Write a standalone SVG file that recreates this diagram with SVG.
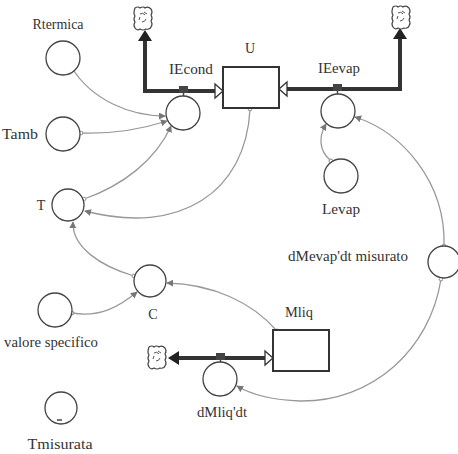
<svg xmlns="http://www.w3.org/2000/svg" width="458" height="454" viewBox="0 0 458 454">
<style>
text{font-family:"Liberation Serif","Times New Roman",serif;font-size:14px;fill:#333;text-anchor:middle}
.aux{fill:#fff;stroke:#444;stroke-width:1.3}
.stock{fill:#fff;stroke:#333;stroke-width:2}
.pipe{fill:none;stroke:#333;stroke-width:4}
.conn{fill:none;stroke:#999;stroke-width:1.3}
.cloud{fill:#fff;stroke:#444;stroke-width:1.2}
.valve{fill:#444}
.hollow{fill:#fff;stroke:#333;stroke-width:1.3}
</style>
<defs>
<marker id="ah" viewBox="0 0 8 8" refX="7" refY="4" markerWidth="7" markerHeight="7" markerUnits="userSpaceOnUse" orient="auto">
<path d="M0,0 L8,4 L0,8 z" fill="#777"/>
</marker>
<marker id="dot" viewBox="0 0 6 6" refX="3" refY="3" markerWidth="5" markerHeight="5" markerUnits="userSpaceOnUse" orient="auto">
<circle cx="3" cy="3" r="2.3" fill="#fff" stroke="#777" stroke-width="1"/>
</marker>
<g id="cloudShape">
<path class="cloud" d="M-8,-10 q3,-2 5,0 q3,-2 5,0 q3,-2 6,1 q2,3 0,6 q2,3 0,6 q2,3 0,6 q-1,3 -5,2 q-3,2 -6,0 q-3,2 -5,-1 q-2,-3 0,-6 q-2,-3 0,-6 q-2,-3 0,-8 z"/>
<path d="M-3,-4 q3,-2 5,1 M3,1 q-1,3 -4,3 M-4,2 l1,-3 M1,-6 l3,2" fill="none" stroke="#555" stroke-width="1"/>
</g>
</defs>

<g id="flows">
<path class="pipe" d="M145,40 L145,91 L215,91"/>
<path d="M138,41 L145,30 L152,41 z" fill="#222"/>
<path class="hollow" d="M215,84 L223,91 L215,98 z"/>
<path class="pipe" d="M287,89 L400,89 L400,38"/>
<path d="M393,39 L400,28 L407,39 z" fill="#222"/>
<path class="hollow" d="M287,82 L279,89 L287,96 z"/>
<path class="pipe" d="M178,358 L265,358"/>
<path d="M179,351 L168,358 L179,365 z" fill="#222"/>
<path class="hollow" d="M265,351 L273,358 L265,365 z"/>
</g>

<g id="connectors">
<path class="conn" d="M72,68 C92,100 130,116 165,116" marker-start="url(#dot)" marker-end="url(#ah)"/>
<path class="conn" d="M81,133 C110,134 142,129 167,121" marker-start="url(#dot)" marker-end="url(#ah)"/>
<path class="conn" d="M84,199 C122,186 156,160 171,126" marker-start="url(#dot)" marker-end="url(#ah)"/>
<path class="conn" d="M250,109 C246,192 180,236 85,211" marker-start="url(#dot)" marker-end="url(#ah)"/>
<path class="conn" d="M134,276 C100,266 72,247 73,222" marker-start="url(#dot)" marker-end="url(#ah)"/>
<path class="conn" d="M277,331 C252,302 212,284 167,283" marker-start="url(#dot)" marker-end="url(#ah)"/>
<path class="conn" d="M72,313 C100,318 120,306 137,292" marker-start="url(#dot)" marker-end="url(#ah)"/>
<path class="conn" d="M444,246 C446,182 402,132 355,117" marker-start="url(#dot)" marker-end="url(#ah)"/>
<path class="conn" d="M441,279 C430,350 372,402 300,401 C272,400 252,395 237,386" marker-start="url(#dot)" marker-end="url(#ah)"/>
<path class="conn" d="M331,161 C318,150 319,136 326,124" marker-start="url(#dot)" marker-end="url(#ah)"/>
</g>

<g id="cloud1"><use href="#cloudShape" x="143" y="18"/></g>
<g id="cloud2"><use href="#cloudShape" x="401" y="17"/></g>
<g id="cloud3"><use href="#cloudShape" x="157" y="357"/></g>

<g id="U">
<rect class="stock" x="223" y="67" width="56" height="41"/>
<text x="250" y="53">U</text>
</g>
<g id="Mliq">
<rect class="stock" x="273" y="330" width="56" height="41"/>
<text x="299" y="317" textLength="28" lengthAdjust="spacingAndGlyphs">Mliq</text>
</g>

<g id="IEcond">
<rect class="valve" x="179" y="86" width="9" height="7"/>
<line x1="183.5" y1="93" x2="183.5" y2="96" stroke="#444" stroke-width="1.5"/>
<circle class="aux" cx="183" cy="113" r="17"/>
<text x="191" y="74" textLength="44" lengthAdjust="spacingAndGlyphs">IEcond</text>
</g>
<g id="IEevap">
<rect class="valve" x="333" y="84" width="9" height="7"/>
<line x1="337.5" y1="91" x2="337.5" y2="94" stroke="#444" stroke-width="1.5"/>
<circle class="aux" cx="338" cy="111" r="17"/>
<text x="339" y="73" textLength="42" lengthAdjust="spacingAndGlyphs">IEevap</text>
</g>
<g id="dMliqdt">
<rect class="valve" x="216" y="353" width="9" height="7"/>
<line x1="220.5" y1="360" x2="220.5" y2="362" stroke="#444" stroke-width="1.5"/>
<circle class="aux" cx="220" cy="379" r="17"/>
<text x="222" y="417" textLength="50" lengthAdjust="spacingAndGlyphs">dMliq'dt</text>
</g>

<g id="Rtermica">
<circle class="aux" cx="63" cy="58" r="17"/>
<text x="58" y="29" textLength="51" lengthAdjust="spacingAndGlyphs">Rtermica</text>
</g>
<g id="Tamb">
<circle class="aux" cx="63" cy="134" r="17"/>
<text x="20" y="139" textLength="36" lengthAdjust="spacingAndGlyphs">Tamb</text>
</g>
<g id="T">
<circle class="aux" cx="68" cy="205" r="16"/>
<text x="41" y="210">T</text>
</g>
<g id="C">
<circle class="aux" cx="150" cy="281" r="16"/>
<text x="153" y="319">C</text>
</g>
<g id="valore">
<circle class="aux" cx="55" cy="310" r="17"/>
<text x="51" y="347" textLength="94" lengthAdjust="spacingAndGlyphs">valore specifico</text>
</g>
<g id="Tmisurata">
<circle class="aux" cx="61" cy="408" r="16"/>
<line x1="57" y1="420" x2="62" y2="420" stroke="#444" stroke-width="1.5"/>
<text x="60" y="449" textLength="65" lengthAdjust="spacingAndGlyphs">Tmisurata</text>
</g>
<g id="Levap">
<circle class="aux" cx="341" cy="176" r="17"/>
<text x="341" y="214" textLength="38" lengthAdjust="spacingAndGlyphs">Levap</text>
</g>
<g id="dMevap">
<circle class="aux" cx="444" cy="262" r="16"/>
<text x="348" y="261" textLength="120" lengthAdjust="spacingAndGlyphs">dMevap'dt misurato</text>
</g>
</svg>
